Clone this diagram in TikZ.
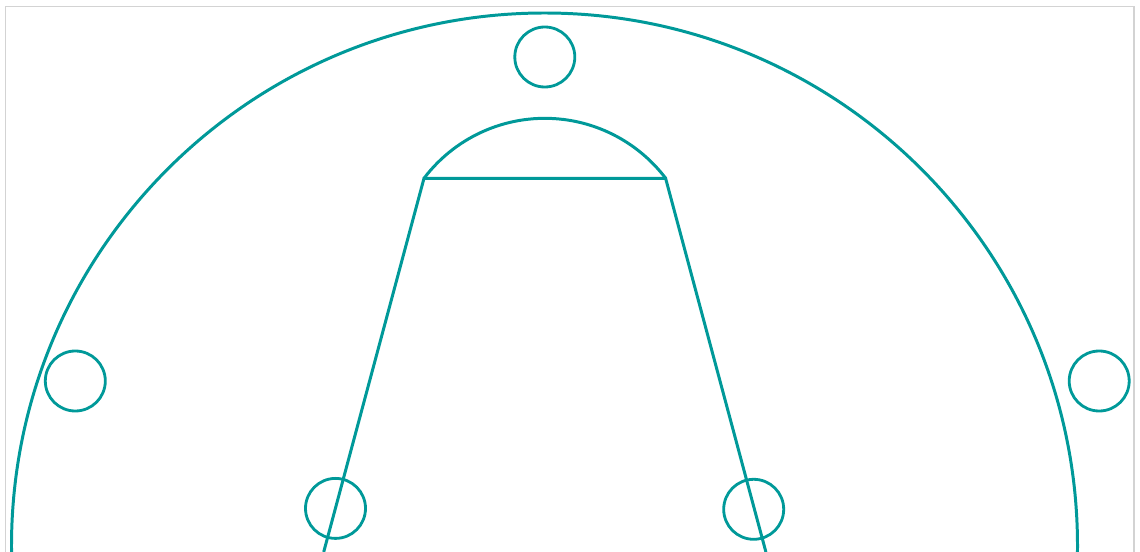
\documentclass[tikz,border=0pt]{standalone}
\usepackage{xcolor}
\usepackage{tikz}
\definecolor{CourtTeal}{HTML}{009999}
\definecolor{CourtFrame}{HTML}{D3D3D3}

\begin{document}
\begin{tikzpicture}[x=1cm,y=1cm]
\path[use as bounding box] (0,0) rectangle (11.40,5.51);
\clip (0,0) rectangle (11.40,5.51);
\draw[CourtFrame,line width=0.35pt] (0.055,-0.20) rectangle (11.34,5.443);
\draw[CourtTeal,line width=0.85pt] (5.445,0.05) circle (5.33);
\node[circle,draw=CourtTeal,line width=0.8pt,minimum size=0.60cm,inner sep=0pt] (topring) at (5.448,4.94) {};
\node[circle,draw=CourtTeal,line width=0.8pt,minimum size=0.60cm,inner sep=0pt] (leftring) at (0.753,1.70) {};
\node[circle,draw=CourtTeal,line width=0.8pt,minimum size=0.60cm,inner sep=0pt] (rightring) at (10.992,1.70) {};
\node[circle,draw=CourtTeal,line width=0.8pt,minimum size=0.60cm,inner sep=0pt] (lowleft) at (3.355,0.426) {};
\node[circle,draw=CourtTeal,line width=0.8pt,minimum size=0.60cm,inner sep=0pt] (lowright) at (7.537,0.417) {};
\coordinate (keyA) at (4.24,3.727);
\coordinate (keyB) at (6.656,3.727);
\coordinate (keyC) at (3.237,-0.01);
\coordinate (keyD) at (7.659,-0.01);
\draw[CourtTeal,line width=0.85pt] (keyC) -- (keyA) -- (keyB) -- (keyD);
\draw[CourtTeal,line width=0.85pt] (keyA) arc[start angle=142.8,end angle=37.2,radius=1.517];
\end{tikzpicture}
\end{document}
